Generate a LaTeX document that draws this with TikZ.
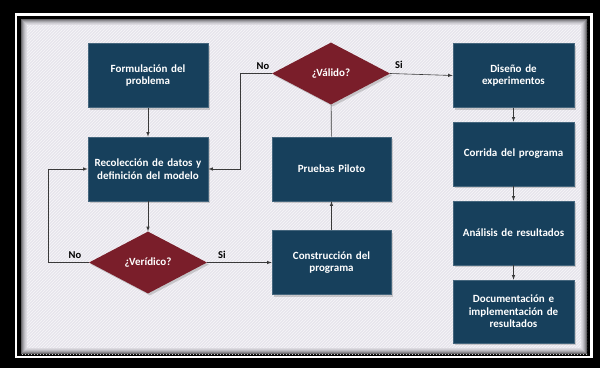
\documentclass[tikz,border=0pt]{standalone}
\usepackage{fontspec}
\setmainfont{Carlito}
\usepackage{tikz}
\usetikzlibrary{arrows,shapes,shadows,patterns,positioning}

\definecolor{caja}{HTML}{17405C}
\definecolor{rombo}{HTML}{7A1E2A}
\definecolor{fondo}{HTML}{E7E5EC}
\definecolor{linea}{HTML}{3A3A3A}

\tikzset{
  paso/.style={rectangle, fill=caja, draw=caja!80!white, line width=0.6pt,
    text=white, font=\bfseries\fontsize{11}{12.5}\selectfont,
    align=center, text width=114pt, inner sep=0pt,
    minimum width=120pt, minimum height=64pt,
    drop shadow={shadow xshift=2pt, shadow yshift=-2pt, opacity=.35}},
  pregunta/.style={diamond, fill=rombo, text=white, inner sep=0pt,
    font=\bfseries\fontsize{11}{12.5}\selectfont,
    minimum width=118pt, minimum height=62pt,
    drop shadow={shadow xshift=2pt, shadow yshift=-2pt, opacity=.35}},
  flecha/.style={->, >=latex, color=linea, line width=0.6pt},
  liga/.style={color=linea, line width=0.6pt},
  etiqueta/.style={font=\bfseries\fontsize{10.5}{12}\selectfont, inner sep=0pt}
}

\begin{document}
\begin{tikzpicture}[x=1pt,y=-1pt]
  \useasboundingbox (0,0) rectangle (600,368);

  % marco
  \fill[black] (0,0) rectangle (600,368);
  \draw[white, line width=2.5pt] (16,14.5) rectangle (591.5,357);
  \fill[fondo] (21,19) rectangle (587,354);
  \fill[pattern=north east lines, pattern color=white!70!fondo] (21,19) rectangle (587,354);
  \foreach \i/\c in {0/55,1/40,2/28,3/18,4/10,5/5}
    \draw[black!\c!fondo, line width=1pt] (21.5+\i,19.5+\i) rectangle (586.5-\i,353.5-\i);

  % columna izquierda
  \node[paso] (formula) at (148,75.5) {Formulación del\\problema};
  \node[paso] (recoleccion) at (148,169) {Recolección de datos y\\definición del modelo};
  \node[pregunta] (veridico) at (148,262.5) {¿Verídico?};

  % columna central
  \node[paso, minimum width=119pt] (construccion) at (331.5,262.5) {Construcción del\\programa};
  \node[paso, minimum width=119pt] (pruebas) at (331.5,169) {Pruebas Piloto};
  \node[pregunta] (valido) at (331,73.5) {¿Válido?};

  % columna derecha
  \node[paso, minimum width=121pt] (diseno) at (513.5,75.5) {Diseño de\\experimentos};
  \node[paso, minimum width=121pt] (corrida) at (513.5,154) {Corrida del programa};
  \node[paso, minimum width=121pt] (analisis) at (513.5,233) {Análisis de resultados};
  \node[paso, minimum width=121pt, minimum height=63pt] (documentacion) at (513.5,311.5) {Documentación e\\implementación de\\resultados};

  \coordinate (izq) at (48,262.5);
  \coordinate (der) at (240,73.5);

  \draw[flecha] (formula) -- (recoleccion);
  \draw[flecha] (recoleccion) -- (veridico);
  \draw[flecha] (veridico.west) -- (izq) |- (recoleccion.west);
  \draw[flecha] (veridico.east) -- (construccion.west);
  \draw[flecha] (construccion) -- (pruebas);
  \draw[liga] (pruebas) -- (valido);
  \draw[flecha] (valido.west) -- (der) |- (recoleccion.east);
  \draw[flecha] (valido.east) -- (diseno.west);
  \draw[flecha] (diseno) -- (corrida);
  \draw[flecha] (corrida) -- (analisis);
  \draw[flecha] (analisis) -- (documentacion);

  \node[etiqueta] (no1) at (75,255) {No};
  \node[etiqueta] (si1) at (222,255) {Si};
  \node[etiqueta] (no2) at (263,66) {No};
  \node[etiqueta] (si2) at (399,65) {Si};

\end{tikzpicture}
\end{document}
